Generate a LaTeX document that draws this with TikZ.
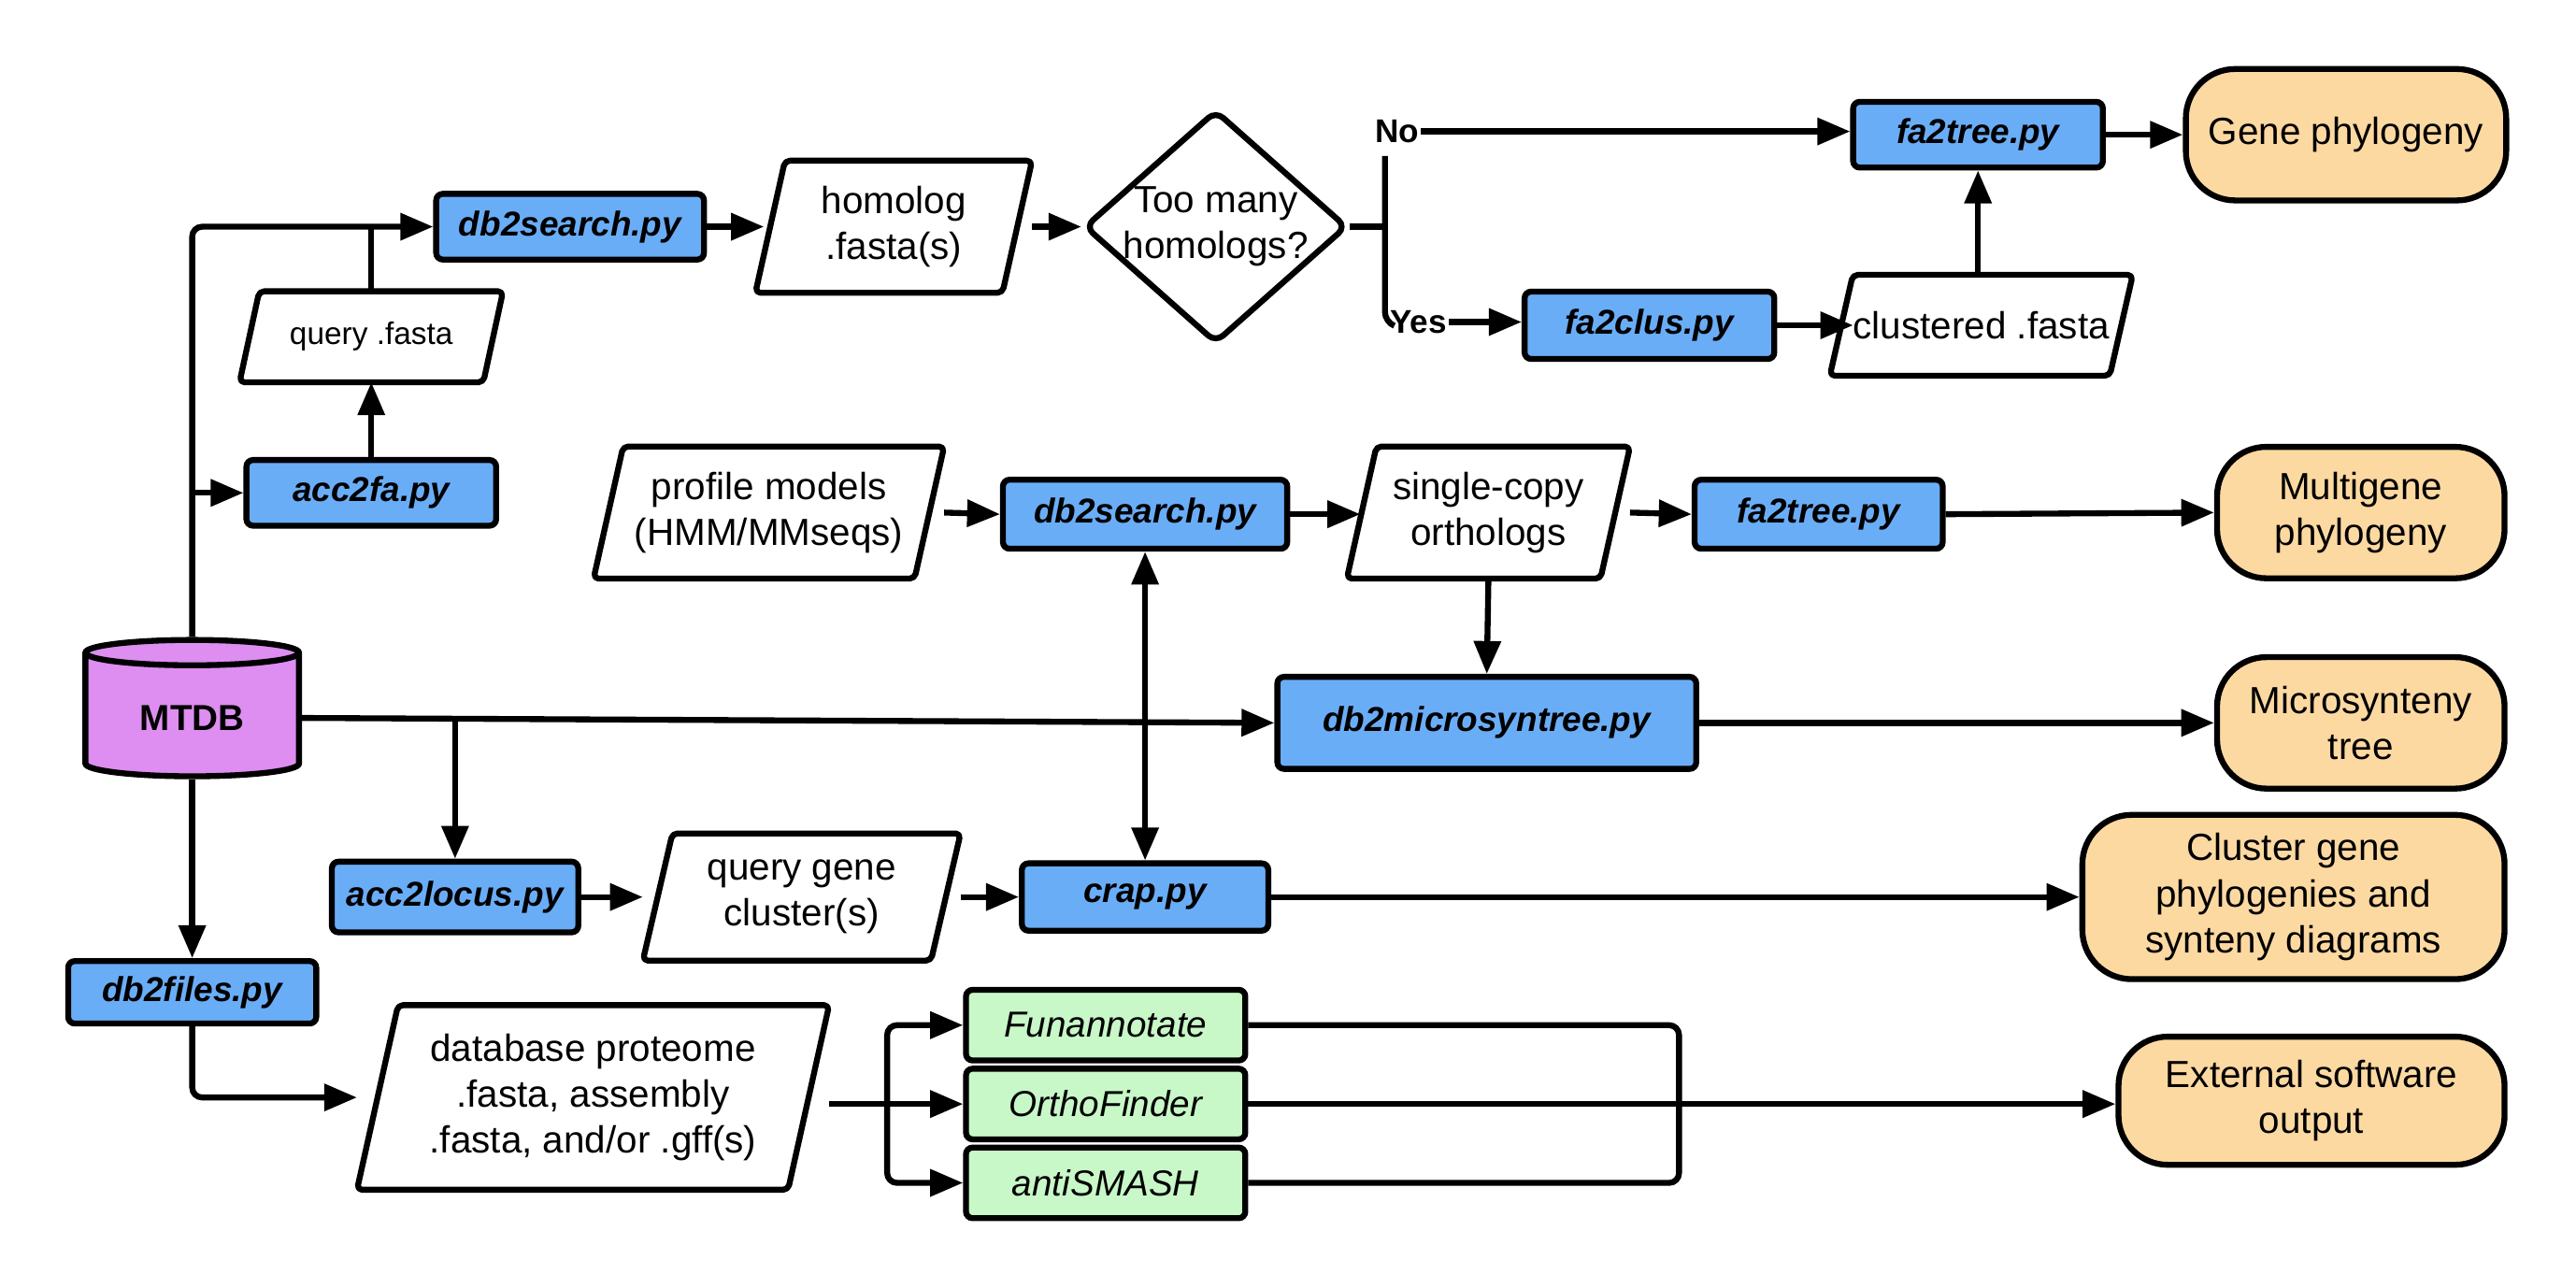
\documentclass[tikz,border=0pt]{standalone}
\usepackage{fontspec}
\setmainfont{Liberation Sans}
\usetikzlibrary{shapes.geometric,arrows.meta,calc}
\definecolor{bluebox}{HTML}{6AADF7}
\definecolor{greenbox}{HTML}{C8F7C8}
\definecolor{orangebox}{HTML}{FDD9A2}
\definecolor{purplecyl}{HTML}{DD8EF0}
\tikzset{
  line/.style={line width=3.6pt},
  arr/.style={line width=3.6pt,-{Triangle[length=20pt,width=16pt]}},
  script/.style={draw,line width=3.6pt,fill=bluebox,rounded corners=4pt,font=\fontsize{21}{24}\selectfont\bfseries\itshape,align=center,inner sep=0pt},
  tool/.style={draw,line width=3.6pt,fill=greenbox,rounded corners=4pt,font=\fontsize{22}{24}\selectfont\itshape,minimum width=170pt,minimum height=43pt,inner sep=0pt},
  outp/.style={draw,line width=3.6pt,fill=orangebox,rounded corners=30pt,font=\fontsize{23}{28}\selectfont,align=center,inner sep=0pt},
  dtext/.style={font=\fontsize{23}{28}\selectfont,align=center,inner sep=0pt},
  lbl/.style={font=\fontsize{20}{22}\selectfont\bfseries,inner sep=1pt}
}
\newcommand{\para}[7]{% name cx cy w h slant text
  \node[dtext,minimum width=#4pt,minimum height=#5pt] (#1) at (#2,#3) {#7};
  \draw[line width=3.6pt,fill=white,line join=round,rounded corners=3pt]
    ($(#1.north west)+(#6pt,0)$) -- (#1.north east) -- ($(#1.south east)-(#6pt,0)$) -- (#1.south west) -- cycle;
  \node[dtext] at (#2,#3) {#7};
}
\begin{document}
\begin{tikzpicture}[x=1pt,y=-1pt]
\useasboundingbox[fill=white] (0,0) rectangle (1568,784);
% MTDB
\node[cylinder,shape border rotate=90,draw,line width=3.6pt,fill=purplecyl,minimum width=130pt,minimum height=83pt,aspect=0.22,font=\fontsize{22}{24}\selectfont\bfseries] (mtdb) at (117,437) {MTDB};
% scripts
\node[script,minimum width=152pt,minimum height=40pt] (acc2fa) at (226,300) {acc2fa.py};
\node[script,minimum width=163pt,minimum height=40pt] (dbs1) at (347,138) {db2search.py};
\node[script,minimum width=152pt,minimum height=40pt] (ft1) at (1204,82) {fa2tree.py};
\node[script,minimum width=152pt,minimum height=41pt] (fclus) at (1004,198) {fa2clus.py};
\node[script,minimum width=173pt,minimum height=42pt] (dbs2) at (697,313) {db2search.py};
\node[script,minimum width=151pt,minimum height=42pt] (ft2) at (1107,313) {fa2tree.py};
\node[script,minimum width=255pt,minimum height=56pt] (micro) at (905,440) {db2microsyntree.py};
\node[script,minimum width=150pt,minimum height=43pt] (acc2l) at (277,546) {acc2locus.py};
\node[script,minimum width=150pt,minimum height=41pt] (crap) at (697,546) {crap.py};
\node[script,minimum width=151pt,minimum height=38pt] (dbf) at (117,604) {db2files.py};
% parallelograms
\para{qfa}{226}{205}{160}{55}{12}{\fontsize{19}{22}\selectfont query .fasta}
\para{hom}{544}{138}{168}{80}{18}{homolog\\.fasta(s)}
\para{clus}{1206}{198}{184}{61}{14}{clustered .fasta}
\para{prof}{468}{312}{213}{80}{18}{profile models\\(HMM/MMseqs)}
\para{sco}{906}{312}{172}{80}{18}{single-copy\\orthologs}
\para{qgc}{488}{546}{193}{77}{18}{query gene\\cluster(s)}
\para{dbp}{361}{668}{287}{112}{25}{database proteome\\.fasta, assembly\\.fasta, and/or .gff(s)}
% diamond
\node[diamond,draw,line width=3.6pt,fill=white,rounded corners=6pt,minimum width=160pt,minimum height=142pt,inner sep=0pt,dtext] (dia) at (740,138) {};
\node[dtext] at (740,138) {Too many\\homologs?};
% tools
\node[tool] (fun) at (673,624) {Funannotate};
\node[tool] (orth) at (673,672) {OrthoFinder};
\node[tool] (anti) at (673,720) {antiSMASH};
% outputs
\node[outp,minimum width=195pt,minimum height=80pt] (gene) at (1428,82) {Gene phylogeny};
\node[outp,minimum width=175pt,minimum height=80pt] (multi) at (1437,312) {Multigene\\phylogeny};
\node[outp,minimum width=175pt,minimum height=80pt] (mst) at (1437,440) {Microsynteny\\tree};
\node[outp,minimum width=257pt,minimum height=100pt] (cgp) at (1396,546) {Cluster gene\\phylogenies and\\synteny diagrams};
\node[outp,minimum width=235pt,minimum height=78pt] (ext) at (1407,670) {External software\\output};
% connectors
\draw[arr,rounded corners=6pt] (mtdb.north) |- (dbs1.west);
\coordinate (j1) at (117,300);
\draw[arr] (j1) -- (acc2fa.west);
\draw[arr] (acc2fa.north) -- (qfa.south);
\coordinate (j2) at (226,138);
\draw[line] (qfa.north) -- (j2);
\draw[arr] (dbs1.east) -- (465,138);
\draw[arr] (hom.east) -- (dia.west);
\coordinate (b0) at (843,138);
\draw[line] (dia.east) -- (b0);
\draw[line,rounded corners=6pt] (843,95) -- (b0) -- (843,196) -- (848,198);
\node[lbl,anchor=west] (no) at (836,80) {No};
\node[lbl,anchor=west] (yes) at (845,196) {Yes};
\draw[arr] (no.east) -- (ft1.west |- no.east);
\draw[arr] (yes.east) -- (fclus.west |- yes.east);
\draw[arr] (fclus.east) -- (1128,198);
\draw[arr] (clus.north -| ft1.south) -- (ft1.south);
\draw[arr] (ft1.east) -- (gene.west);
\draw[arr] (prof.east) -- (dbs2.west);
\draw[arr] (dbs2.east) -- (828,313);
\draw[arr] (sco.east) -- (ft2.west);
\draw[arr] (ft2.east) -- (multi.west);
\draw[arr] (sco.south) -- (micro.north);
\draw[arr] (mtdb.east) -- (micro.west);
\coordinate (j3) at (277,437);
\draw[arr] (j3) -- (acc2l.north);
\draw[line width=3.6pt,{Triangle[length=20pt,width=16pt]}-{Triangle[length=20pt,width=16pt]}] (dbs2.south) -- (crap.north);
\draw[arr] (micro.east) -- (mst.west);
\draw[arr] (acc2l.east) -- (qgc.west);
\draw[arr] (qgc.east) -- (crap.west);
\draw[arr] (crap.east) -- (cgp.west);
\draw[arr] (mtdb.south) -- (dbf.north);
\draw[arr,rounded corners=6pt] (dbf.south) |- (dbp.west);
\coordinate (j4) at (540,672);
\draw[line] (dbp.east |- j4) -- (j4);
\draw[arr,rounded corners=6pt] (j4) |- (fun.west);
\draw[arr] (j4) -- (orth.west);
\draw[arr,rounded corners=6pt] (j4) |- (anti.west);
\coordinate (j5) at (1022,672);
\draw[line,rounded corners=6pt] (fun.east) -| (j5);
\draw[line,rounded corners=6pt] (anti.east) -| (j5);
\draw[line] (orth.east) -- (j5);
\draw[arr] (j5) -- (ext.west |- j5);
\end{tikzpicture}
\end{document}
